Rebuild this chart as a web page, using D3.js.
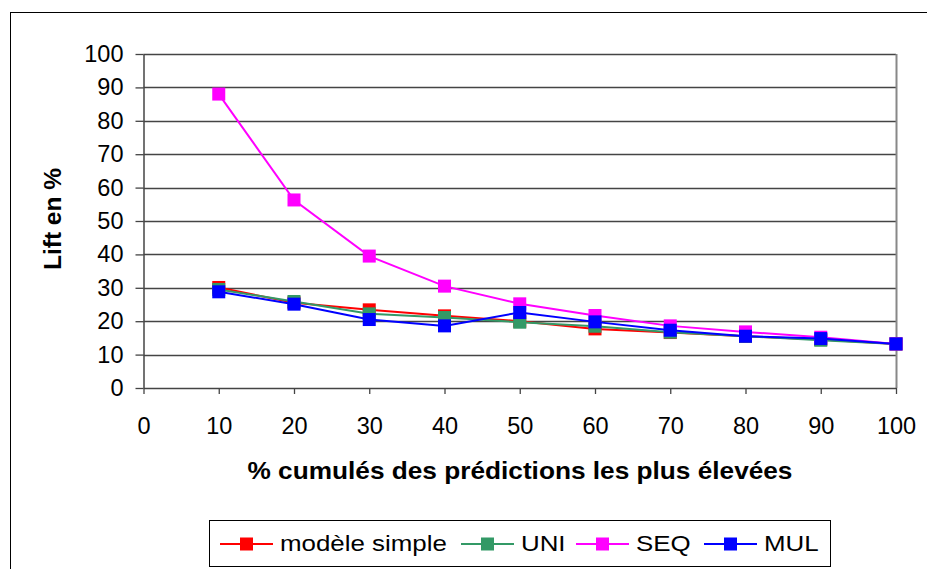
<!DOCTYPE html>
<html>
<head>
<meta charset="utf-8">
<script src="https://cdn.jsdelivr.net/npm/d3@7"></script>
<style>
  html, body { margin: 0; padding: 0; background: #fff; }
  svg { display: block; font-family: "Liberation Sans", Arial, sans-serif; }
</style>
</head>
<body>
<svg id="chart" width="927" height="569"></svg>
<script>
// Cumulative share of top predictions (%)
const percentiles = [10, 20, 30, 40, 50, 60, 70, 80, 90, 100];

// Lift values (%) for each model
const simpleModel = [30.1, 25.5, 23.4, 21.6, 20.0, 17.7, 16.6, 15.5, 14.5, 13.2];
const uniModel    = [29.5, 25.9, 22.2, 21.1, 19.7, 18.5, 16.7, 15.5, 14.3, 13.2];
const seqModel    = [88.0, 56.3, 39.5, 30.5, 25.2, 21.7, 18.6, 16.8, 15.2, 13.2];
const mulModel    = [28.8, 25.1, 20.5, 18.6, 22.6, 19.8, 17.3, 15.5, 14.8, 13.2];

const seriesNames  = ["modèle simple", "UNI", "SEQ", "MUL"];
const seriesColors = ["#ff0000", "#339966", "#ff00ff", "#0000ff"];

const xTicks = [0, 10, 20, 30, 40, 50, 60, 70, 80, 90, 100];
const yTicks = [0, 10, 20, 30, 40, 50, 60, 70, 80, 90, 100];

const xTitle = "% cumulés des prédictions les plus élevées";
const yTitle = "Lift en %";

const series = [simpleModel, uniModel, seqModel, mulModel].map((vals, i) => ({
  name: seriesNames[i],
  color: seriesColors[i],
  points: vals.map((v, j) => ({ x: percentiles[j], y: v }))
}));

const svg = d3.select("#chart");

// Widen a text element horizontally by a given factor
function stretch(sel, factor) {
  sel.each(function () {
    const w = this.getComputedTextLength();
    d3.select(this)
      .attr("textLength", w * factor)
      .attr("lengthAdjust", "spacingAndGlyphs");
  });
}

// Outer chart frame
svg.append("rect")
  .attr("x", 10.5).attr("y", 12.5)
  .attr("width", 940).attr("height", 580)
  .attr("fill", "#fff").attr("stroke", "#000").attr("stroke-width", 1);

const plot = { left: 143.5, right: 896, top: 54, bottom: 388 };

const x = d3.scaleLinear().domain([0, 100]).range([plot.left, plot.right]);
const y = d3.scaleLinear().domain([0, 100]).range([plot.bottom, plot.top]);

// Horizontal gridlines
svg.append("g")
  .selectAll("line")
  .data(yTicks.filter(d => d > 0))
  .join("line")
  .attr("x1", plot.left).attr("x2", plot.right)
  .attr("y1", d => Math.round(y(d)) + 0.5).attr("y2", d => Math.round(y(d)) + 0.5)
  .attr("stroke", "#444").attr("stroke-width", 1.3);

// Right edge of the plot area
svg.append("line")
  .attr("x1", plot.right + 0.5).attr("x2", plot.right + 0.5)
  .attr("y1", plot.top).attr("y2", plot.bottom)
  .attr("stroke", "#888").attr("stroke-width", 2);

// Y axis
const yAxis = svg.append("g")
  .attr("transform", `translate(${plot.left},0)`)
  .call(d3.axisLeft(y).tickValues(yTicks).tickSize(8).tickPadding(12).tickSizeOuter(0));
yAxis.select(".domain").attr("stroke", "#444").attr("stroke-width", 1.5);
yAxis.selectAll(".tick line").attr("stroke", "#444").attr("stroke-width", 1.3);
yAxis.selectAll(".tick text")
  .attr("font-size", 23.5).attr("fill", "#000")
  .attr("font-family", "Liberation Sans, Arial, sans-serif");

// X axis
const xAxis = svg.append("g")
  .attr("transform", `translate(0,${plot.bottom})`)
  .call(d3.axisBottom(x).tickValues(xTicks).tickSize(6).tickPadding(23).tickSizeOuter(0));
xAxis.select(".domain").attr("stroke", "#444").attr("stroke-width", 1.5);
xAxis.selectAll(".tick line").attr("stroke", "#444").attr("stroke-width", 1.3);
xAxis.selectAll(".tick text")
  .attr("font-size", 23.5).attr("fill", "#000")
  .attr("font-family", "Liberation Sans, Arial, sans-serif");

// Axis titles
svg.append("text")
  .attr("x", 520)
  .attr("y", 479)
  .attr("text-anchor", "middle")
  .attr("font-size", 24.5).attr("font-weight", "bold")
  .text(xTitle)
  .call(stretch, 1.07);

svg.append("text")
  .attr("transform", `translate(61,219) rotate(-90)`)
  .attr("text-anchor", "middle")
  .attr("font-size", 24.5).attr("font-weight", "bold")
  .text(yTitle);

// Series lines and square markers
const line = d3.line().x(d => x(d.x)).y(d => y(d.y));
const markerSize = 13;

series.forEach(s => {
  const g = svg.append("g");
  g.append("path")
    .datum(s.points)
    .attr("d", line)
    .attr("fill", "none")
    .attr("stroke", s.color)
    .attr("stroke-width", 2);
  g.selectAll("rect")
    .data(s.points)
    .join("rect")
    .attr("x", d => x(d.x) - markerSize / 2)
    .attr("y", d => y(d.y) - markerSize / 2)
    .attr("width", markerSize).attr("height", markerSize)
    .attr("fill", s.color);
});

// Legend
const legend = svg.append("g");
legend.append("rect")
  .attr("x", 209.5).attr("y", 520.5)
  .attr("width", 621).attr("height", 46)
  .attr("fill", "#fff").attr("stroke", "#000").attr("stroke-width", 1);

const legendX = [220, 461, 576, 704];
series.forEach((s, i) => {
  const lx = legendX[i];
  const ly = 544;
  legend.append("line")
    .attr("x1", lx).attr("x2", lx + 53)
    .attr("y1", ly).attr("y2", ly)
    .attr("stroke", s.color).attr("stroke-width", 2);
  legend.append("rect")
    .attr("x", lx + 26.5 - 6.5).attr("y", ly - 6.5)
    .attr("width", 13).attr("height", 13)
    .attr("fill", s.color);
  legend.append("text")
    .attr("x", lx + 60).attr("y", 551)
    .attr("font-size", 22.5)
    .text(s.name)
    .call(stretch, 1.15);
});
</script>
</body>
</html>
